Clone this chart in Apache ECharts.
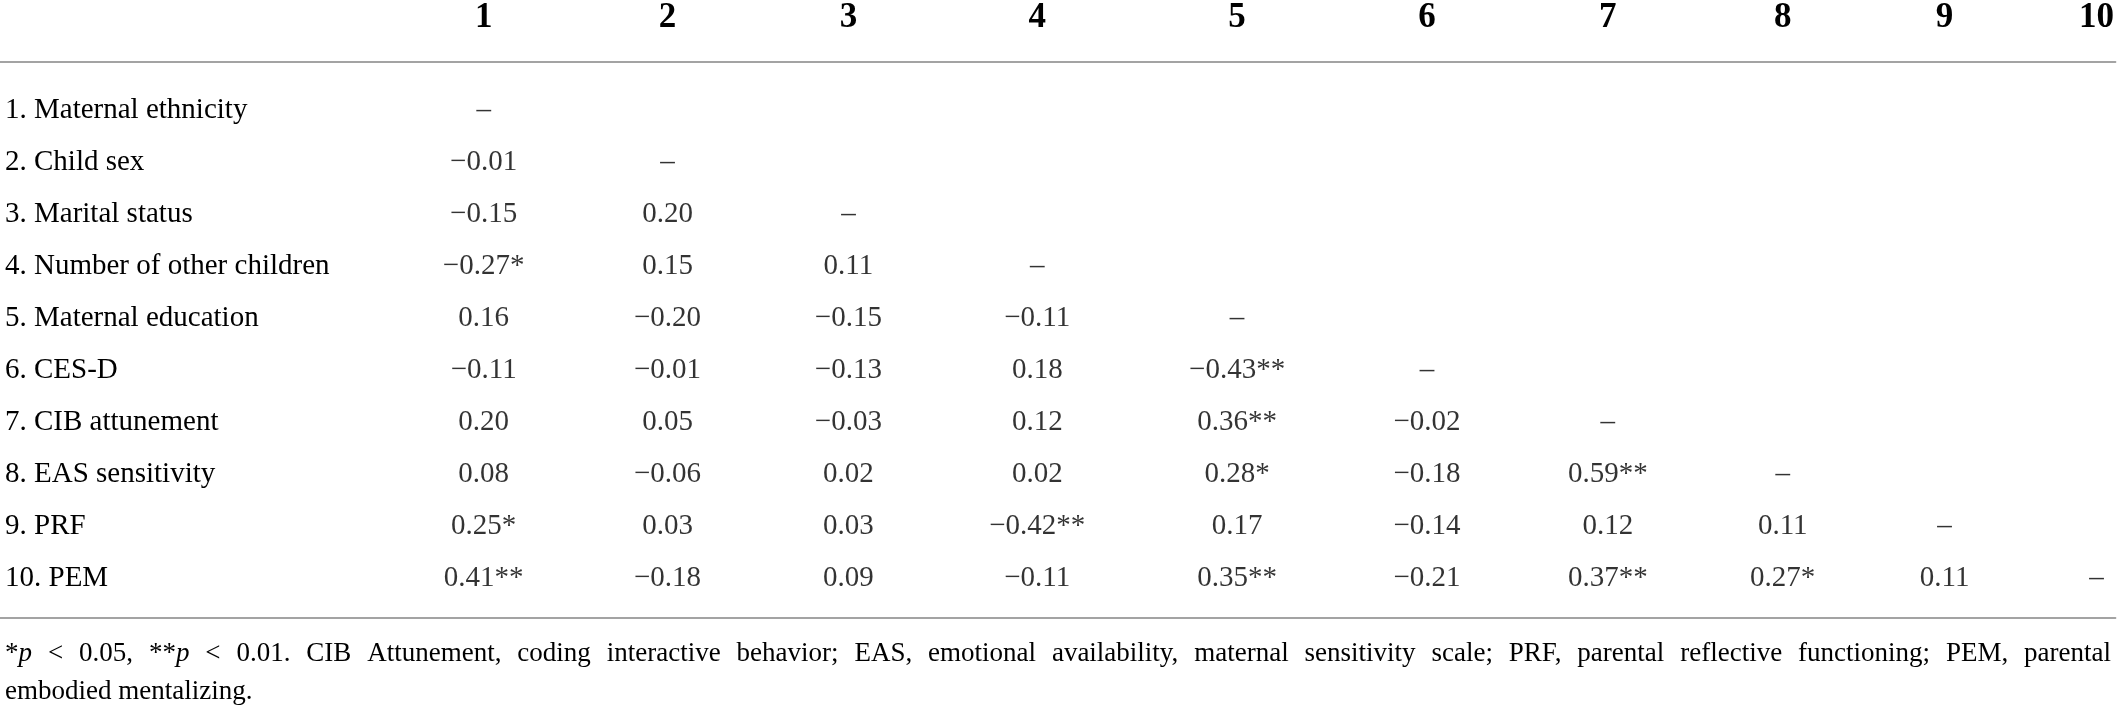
<!DOCTYPE html>
<html>
<head>
<meta charset="utf-8">
<script src="https://cdn.jsdelivr.net/npm/echarts@6/dist/echarts.min.js"></script>
<style>
html,body{margin:0;padding:0;background:#fff;}
#chart{width:2117px;height:709px;}
</style>
</head>
<body>
<div id="chart"></div>
<script>
// ---------------- DATA ----------------
const colHeaders = ['1', '2', '3', '4', '5', '6', '7', '8', '9', '10'];
const rowLabels = [
  '1. Maternal ethnicity',
  '2. Child sex',
  '3. Marital status',
  '4. Number of other children',
  '5. Maternal education',
  '6. CES-D',
  '7. CIB attunement',
  '8. EAS sensitivity',
  '9. PRF',
  '10. PEM'
];
// correlations below the diagonal (row r, columns 1..r-1)
const r1 = [];
const r2 = [-0.01];
const r3 = [-0.15, 0.20];
const r4 = [-0.27, 0.15, 0.11];
const r5 = [0.16, -0.20, -0.15, -0.11];
const r6 = [-0.11, -0.01, -0.13, 0.18, -0.43];
const r7 = [0.20, 0.05, -0.03, 0.12, 0.36, -0.02];
const r8 = [0.08, -0.06, 0.02, 0.02, 0.28, -0.18, 0.59];
const r9 = [0.25, 0.03, 0.03, -0.42, 0.17, -0.14, 0.12, 0.11];
const r10 = [0.41, -0.18, 0.09, -0.11, 0.35, -0.21, 0.37, 0.27, 0.11];
// significance marks
const s1 = [];
const s2 = [''];
const s3 = ['', ''];
const s4 = ['*', '', ''];
const s5 = ['', '', '', ''];
const s6 = ['', '', '', '', '**'];
const s7 = ['', '', '', '', '**', ''];
const s8 = ['', '', '', '', '*', '', '**'];
const s9 = ['*', '', '', '**', '', '', '', ''];
const s10 = ['**', '', '', '', '**', '', '**', '*', ''];
const diagonalMark = '–';
const footnoteLine1 = '*p < 0.05, **p < 0.01. CIB Attunement, coding interactive behavior; EAS, emotional availability, maternal sensitivity scale; PRF, parental reflective functioning; PEM, parental';
const footnoteLine2 = 'embodied mentalizing.';

// ---------------- LAYOUT ----------------
const W = 2117;
const COL_X = [484, 668, 849, 1038, 1238, 1428, 1609, 1784, 1946, 2098]; // column centres (table layout)
const FONT = 'Liberation Serif';
const FS = 29;        // body
const FS_HEAD = 35;   // header numbers
const FS_NOTE = 27;   // footnote
const INK = '#000000';
const RULE = '#a3a3a3';

const rowVals = [r1, r2, r3, r4, r5, r6, r7, r8, r9, r10];
const rowSig = [s1, s2, s3, s4, s5, s6, s7, s8, s9, s10];

function fmt(v) {
  return (v < 0 ? '\u2212' : '') + Math.abs(v).toFixed(2);
}

const cells = [];
rowVals.forEach(function (vals, r) {
  for (let c = 0; c <= r; c++) {
    const text = (c === r) ? diagonalMark : fmt(vals[c]) + rowSig[r][c];
    cells.push({ value: [COL_X[c], rowLabels[r]], text: text });
  }
});

// ---- footnote (justified first line) ----
const cv = document.createElement('canvas');
const ctx = cv.getContext('2d');
function measure(t, italic) {
  ctx.font = (italic ? 'italic ' : '') + FS_NOTE + 'px "' + FONT + '"';
  return ctx.measureText(t).width;
}
function segs(word) {
  const m = word.match(/^(\*+)p$/);
  if (m) return [{ t: m[1], i: false }, { t: 'p', i: true }];
  return [{ t: word, i: false }];
}
const graphics = [];
function addWordsLine(words, y, x0, x1, justify) {
  const wsegs = words.map(segs);
  const widths = wsegs.map(function (ss) {
    return ss.reduce(function (a, s) { return a + measure(s.t, s.i); }, 0);
  });
  const total = widths.reduce(function (a, b) { return a + b; }, 0);
  const gap = justify ? (x1 - x0 - total) / (words.length - 1) : measure(' ', false);
  let x = x0;
  wsegs.forEach(function (ss, k) {
    let sx = x;
    ss.forEach(function (s) {
      graphics.push({
        type: 'text', x: sx, y: y, silent: true,
        style: {
          text: s.t, fill: INK, fontSize: FS_NOTE, fontFamily: FONT,
          fontStyle: s.i ? 'italic' : 'normal',
          align: 'left', verticalAlign: 'middle'
        }
      });
      sx += measure(s.t, s.i);
    });
    x += widths[k] + gap;
  });
}
addWordsLine(footnoteLine1.split(' '), 654, 5, 2111, true);
addWordsLine(footnoteLine2.split(' '), 692, 5, 2111, false);

// ---------------- CHART ----------------
const chart = echarts.init(document.getElementById('chart'), null, { renderer: 'canvas' });
chart.setOption({
  animation: false,
  backgroundColor: '#ffffff',
  grid: { left: 0, right: 0, top: 84, height: 520, containLabel: false },
  xAxis: [
    {
      type: 'value', position: 'top', min: 0, max: W, offset: 23,
      axisLine: { show: true, lineStyle: { color: RULE, width: 1.8 } },
      axisTick: { show: false },
      splitLine: { show: false },
      axisLabel: {
        show: true,
        customValues: COL_X,
        formatter: function (v) {
          const i = COL_X.indexOf(v);
          return i >= 0 ? colHeaders[i] : '';
        },
        fontFamily: FONT, fontSize: FS_HEAD, fontWeight: 'bold', color: INK,
        verticalAlign: 'middle', margin: 44
      }
    },
    {
      type: 'value', position: 'bottom', min: 0, max: W, offset: 14,
      axisLine: { show: true, lineStyle: { color: RULE, width: 1.8 } },
      axisTick: { show: false },
      splitLine: { show: false },
      axisLabel: { show: false }
    }
  ],
  yAxis: {
    type: 'category', data: rowLabels, inverse: true, position: 'left',
    axisLine: { show: false }, axisTick: { show: false }, splitLine: { show: false },
    axisLabel: {
      interval: 0, align: 'left', margin: -5,
      fontFamily: FONT, fontSize: FS, color: INK
    }
  },
  series: [{
    type: 'scatter',
    xAxisIndex: 0,
    symbolSize: 0,
    data: cells,
    label: {
      show: true, position: 'inside',
      formatter: function (p) { return p.data.text; },
      fontFamily: FONT, fontSize: FS, color: INK
    }
  }],
  graphic: graphics
});
</script>
</body>
</html>
